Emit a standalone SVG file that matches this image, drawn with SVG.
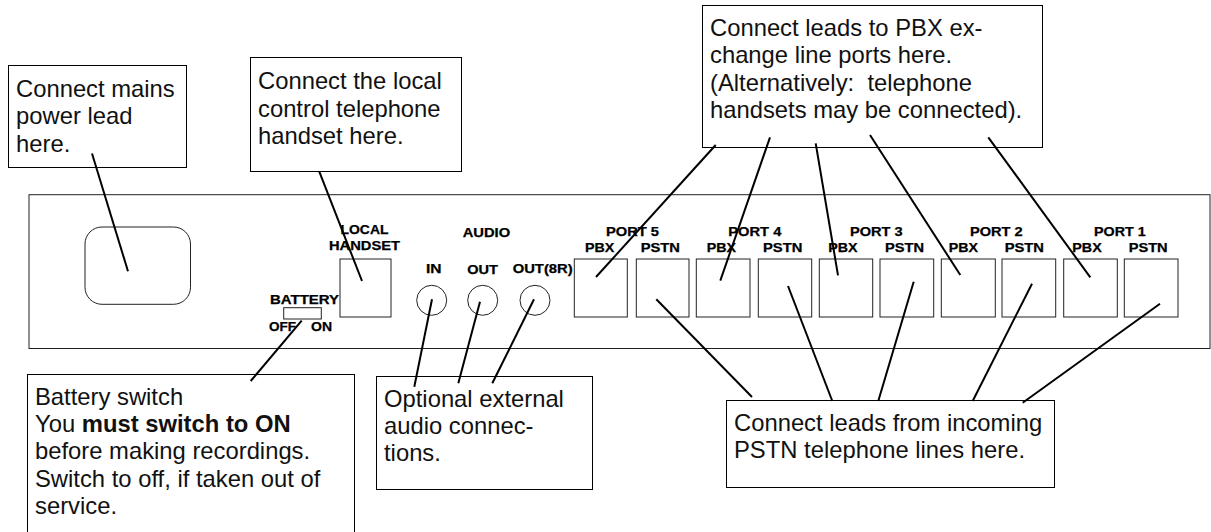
<svg xmlns="http://www.w3.org/2000/svg" width="1211" height="532" viewBox="0 0 1211 532">
<style>
.b{fill:#fff;stroke:#000;stroke-width:1}
.k{fill:none;stroke:#222;stroke-width:1}
.t{font-family:"Liberation Sans",Arial,sans-serif;font-size:23.8px;fill:#111}
.s{font-family:"Liberation Sans",Arial,sans-serif;font-size:12px;font-weight:bold;fill:#000;stroke:#000;stroke-width:.25}
#connectors line{stroke:#000;stroke-width:2}
</style>
<rect width="1211" height="532" fill="#fff"/>
<g id="panel">
<rect x="29" y="194.7" width="1181" height="153.8" fill="#fff" stroke="#222" stroke-width="1"/>
<rect id="mains-socket" class="k" x="85" y="227" width="105.5" height="77.3" rx="17"/>
<g id="local-handset">
<rect class="k" x="340" y="259" width="51" height="58"/>
<text class="s" x="340.5" y="234" textLength="48" lengthAdjust="spacingAndGlyphs">LOCAL</text>
<text class="s" x="329" y="250" textLength="71" lengthAdjust="spacingAndGlyphs">HANDSET</text>
</g>
<g id="battery-switch">
<rect class="k" x="283.7" y="307.7" width="37.6" height="11.3"/>
<text class="s" x="270" y="304" textLength="69" lengthAdjust="spacingAndGlyphs">BATTERY</text>
<text class="s" x="269" y="331" textLength="27" lengthAdjust="spacingAndGlyphs">OFF</text>
<text class="s" x="311" y="331" textLength="21" lengthAdjust="spacingAndGlyphs">ON</text>
</g>
<g id="audio">
<text class="s" x="462.7" y="237" textLength="47.5" lengthAdjust="spacingAndGlyphs">AUDIO</text>
<text class="s" x="426" y="273.3" textLength="15.5" lengthAdjust="spacingAndGlyphs">IN</text>
<text class="s" x="467.3" y="274.3" textLength="30.7" lengthAdjust="spacingAndGlyphs">OUT</text>
<text class="s" x="512.7" y="273.3" textLength="60" lengthAdjust="spacingAndGlyphs">OUT(8R)</text>
<circle class="k" cx="431.7" cy="300.3" r="15"/>
<circle class="k" cx="482.7" cy="300.3" r="15"/>
<circle class="k" cx="535" cy="300.3" r="15"/>
</g>
<g id="port-5">
<text class="s" x="606" y="236" textLength="53" lengthAdjust="spacingAndGlyphs">PORT 5</text>
<text class="s" x="585" y="252" textLength="29.3" lengthAdjust="spacingAndGlyphs">PBX</text>
<text class="s" x="640.7" y="252" textLength="39.3" lengthAdjust="spacingAndGlyphs">PSTN</text>
<rect class="k" x="574.3" y="259" width="53" height="58"/>
<rect class="k" x="636.3" y="259" width="52.7" height="58"/>
</g>
<g id="port-4">
<text class="s" x="728.3" y="236" textLength="53" lengthAdjust="spacingAndGlyphs">PORT 4</text>
<text class="s" x="706.7" y="252" textLength="29.3" lengthAdjust="spacingAndGlyphs">PBX</text>
<text class="s" x="763" y="252" textLength="39.3" lengthAdjust="spacingAndGlyphs">PSTN</text>
<rect class="k" x="696.3" y="259" width="53.7" height="58"/>
<rect class="k" x="758.3" y="259" width="53.4" height="58"/>
</g>
<g id="port-3">
<text class="s" x="850" y="236" textLength="52.7" lengthAdjust="spacingAndGlyphs">PORT 3</text>
<text class="s" x="828.3" y="252" textLength="29.3" lengthAdjust="spacingAndGlyphs">PBX</text>
<text class="s" x="885" y="252" textLength="39" lengthAdjust="spacingAndGlyphs">PSTN</text>
<rect class="k" x="819.3" y="259" width="53.4" height="58"/>
<rect class="k" x="880" y="259" width="53.7" height="58"/>
</g>
<g id="port-2">
<text class="s" x="970" y="236" textLength="52.7" lengthAdjust="spacingAndGlyphs">PORT 2</text>
<text class="s" x="948.7" y="252" textLength="29.3" lengthAdjust="spacingAndGlyphs">PBX</text>
<text class="s" x="1004.7" y="252" textLength="39.3" lengthAdjust="spacingAndGlyphs">PSTN</text>
<rect class="k" x="941.3" y="259" width="54" height="58"/>
<rect class="k" x="1002" y="259" width="53.7" height="58"/>
</g>
<g id="port-1">
<text class="s" x="1094" y="236" textLength="51.7" lengthAdjust="spacingAndGlyphs">PORT 1</text>
<text class="s" x="1072.3" y="252" textLength="29.4" lengthAdjust="spacingAndGlyphs">PBX</text>
<text class="s" x="1128.7" y="252" textLength="39" lengthAdjust="spacingAndGlyphs">PSTN</text>
<rect class="k" x="1063.7" y="259" width="53.6" height="58"/>
<rect class="k" x="1124.3" y="259" width="53.7" height="58"/>
</g>
</g>
<g id="note-mains">
<rect class="b" x="8.5" y="65.5" width="178" height="102"/>
<text class="t" x="16" y="96.7">Connect mains</text>
<text class="t" x="16" y="124.2">power lead</text>
<text class="t" x="16" y="151.7">here.</text>
</g>
<g id="note-local">
<rect class="b" x="250.5" y="57.5" width="211" height="114"/>
<text class="t" x="258" y="89.3">Connect the local</text>
<text class="t" x="258" y="116.6">control telephone</text>
<text class="t" x="258" y="143.9">handset here.</text>
</g>
<g id="note-pbx">
<rect class="b" x="702.5" y="5.5" width="340" height="142"/>
<text class="t" x="710" y="36">Connect leads to PBX ex-</text>
<text class="t" x="710" y="63.4">change line ports here.</text>
<text class="t" x="710" y="90.8" xml:space="preserve">(Alternatively:  telephone</text>
<text class="t" x="710" y="118.2">handsets may be connected).</text>
</g>
<g id="note-battery">
<rect class="b" x="27.5" y="374.5" width="327" height="170"/>
<text class="t" x="35" y="404.7">Battery switch</text>
<text class="t" x="35" y="432">You <tspan font-weight="bold">must switch to ON</tspan></text>
<text class="t" x="35" y="459.3">before making recordings.</text>
<text class="t" x="35" y="486.6">Switch to off, if taken out of</text>
<text class="t" x="35" y="513.9">service.</text>
</g>
<g id="note-audio">
<rect class="b" x="376.5" y="376.5" width="216" height="113"/>
<text class="t" x="384" y="406.7">Optional external</text>
<text class="t" x="384" y="434">audio connec-</text>
<text class="t" x="384" y="461.3">tions.</text>
</g>
<g id="note-pstn">
<rect class="b" x="726.5" y="400.5" width="328" height="87"/>
<text class="t" x="734" y="431">Connect leads from incoming</text>
<text class="t" x="734" y="458.3">PSTN telephone lines here.</text>
</g>
<g id="connectors">
<line x1="92" y1="153.5" x2="128" y2="271.3"/>
<line x1="319.3" y1="171.7" x2="362" y2="281"/>
<line x1="301.7" y1="320.7" x2="250.7" y2="381"/>
<line x1="432" y1="299.3" x2="414.3" y2="386.7"/>
<line x1="480" y1="301.7" x2="458.3" y2="383.3"/>
<line x1="534" y1="299.3" x2="492.3" y2="383.3"/>
<line x1="715.7" y1="145" x2="596" y2="277"/>
<line x1="770" y1="137.3" x2="720.3" y2="280.7"/>
<line x1="815.7" y1="143.3" x2="838" y2="275.3"/>
<line x1="870" y1="135" x2="960.3" y2="275"/>
<line x1="988.3" y1="137.3" x2="1090.3" y2="277.3"/>
<line x1="656.3" y1="299.3" x2="752" y2="397"/>
<line x1="788" y1="286" x2="832.3" y2="401"/>
<line x1="913.7" y1="281.7" x2="878.3" y2="401"/>
<line x1="1032" y1="283.7" x2="972.7" y2="401"/>
<line x1="1160" y1="303.7" x2="1022.7" y2="402.7"/>
</g>
</svg>
